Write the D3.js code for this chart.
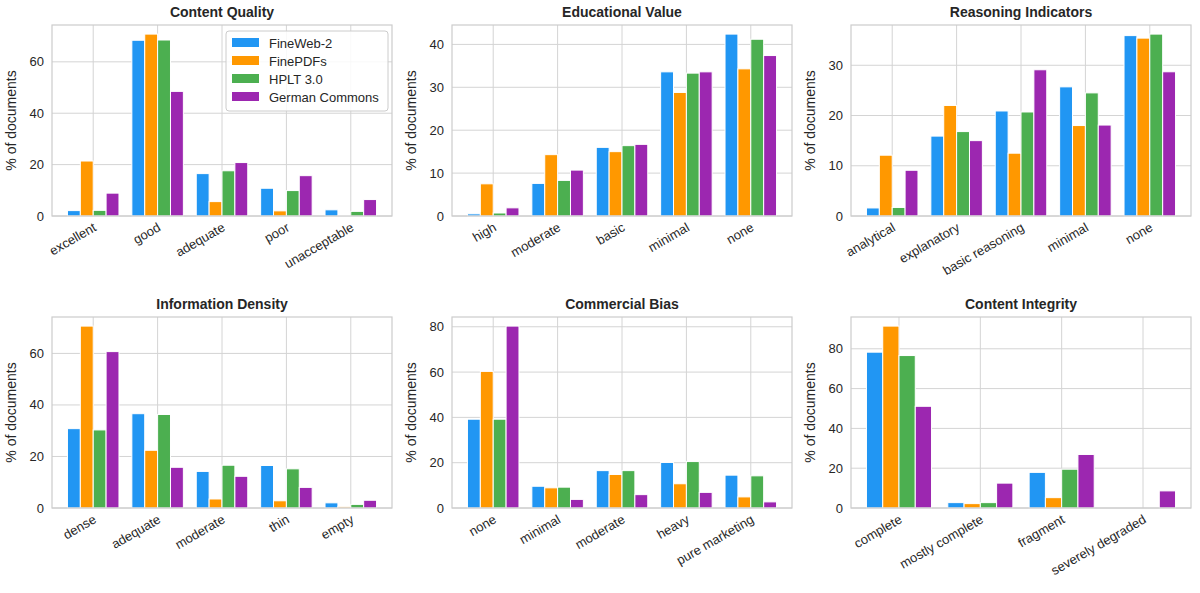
<!DOCTYPE html>
<html lang="en">
<head>
<meta charset="UTF-8">
<title>Quality distributions</title>
<script src="https://d3js.org/d3.v7.min.js"></script>
<style>
  body { margin: 0; background: #fff; font-family: Arial, "Liberation Sans", sans-serif; }
  text { fill: #262626; }
</style>
</head>
<body>
<svg id="chart" width="1200" height="593"></svg>
<script>
const seriesNames = ["FineWeb-2", "FinePDFs", "HPLT 3.0", "German Commons"];
const colors = ["#2196F3", "#FF9800", "#4CAF50", "#9C27B0"];

const titles = ["Content Quality", "Educational Value", "Reasoning Indicators",
                "Information Density", "Commercial Bias", "Content Integrity"];

const categories = [
  ["excellent", "good", "adequate", "poor", "unacceptable"],
  ["high", "moderate", "basic", "minimal", "none"],
  ["analytical", "explanatory", "basic reasoning", "minimal", "none"],
  ["dense", "adequate", "moderate", "thin", "empty"],
  ["none", "minimal", "moderate", "heavy", "pure marketing"],
  ["complete", "mostly complete", "fragment", "severely degraded"]
];

// values[panel][category] = [FineWeb-2, FinePDFs, HPLT 3.0, German Commons]
const values = [
  [[2.1, 21.4, 2.2, 8.9], [68.4, 70.8, 68.5, 48.5], [16.5, 5.6, 17.6, 20.8], [10.8, 2.0, 9.9, 15.7], [2.4, 0.2, 1.8, 6.4]],
  [[0.5, 7.5, 0.7, 1.9], [7.6, 14.3, 8.3, 10.7], [16.0, 15.0, 16.4, 16.7], [33.6, 28.8, 33.3, 33.6], [42.4, 34.3, 41.2, 37.4]],
  [[1.6, 12.1, 1.7, 9.1], [15.9, 22.0, 16.8, 15.0], [20.9, 12.5, 20.7, 29.1], [25.7, 18.0, 24.5, 18.1], [35.9, 35.4, 36.2, 28.7]],
  [[30.8, 70.6, 30.3, 60.7], [36.6, 22.4, 36.3, 15.8], [14.2, 3.5, 16.6, 12.3], [16.5, 2.8, 15.2, 8.0], [2.0, 0.5, 1.4, 3.0]],
  [[39.2, 60.3, 39.2, 80.3], [9.6, 8.9, 9.2, 3.8], [16.5, 14.8, 16.5, 5.9], [20.1, 10.7, 20.5, 6.9], [14.5, 4.9, 14.2, 2.7]],
  [[78.3, 91.4, 76.6, 51.1], [2.7, 2.2, 2.7, 12.5], [17.9, 5.2, 19.5, 26.9], [0, 0, 0, 8.6]]
];

const svg = d3.select("#chart");
const W = 340, H = 191;
const lefts = [52, 452, 851], tops = [25, 317];
const barW = 0.2;

titles.forEach((title, p) => {
  const x0 = lefts[p % 3], y0 = tops[Math.floor(p / 3)];
  const g = svg.append("g").attr("transform", `translate(${x0},${y0})`);
  const cats = categories[p], vals = values[p];
  const n = cats.length;
  const lo = -0.4, hi = n - 1 + 0.4, span = hi - lo;
  const x = d3.scaleLinear().domain([lo - 0.05 * span, hi + 0.05 * span]).range([0, W]);
  const ymax = d3.max(vals.flat()) * 1.05;
  const y = d3.scaleLinear().domain([0, ymax]).range([H, 0]);
  const ticks = d3.range(0, ymax, ymax > 50 ? 20 : 10);

  // grid
  g.selectAll(".hg").data(ticks).enter().append("line")
    .attr("x1", 0).attr("x2", W).attr("y1", d => y(d)).attr("y2", d => y(d))
    .attr("stroke", "#d4d4d4").attr("stroke-width", 1);
  g.selectAll(".vg").data(d3.range(n)).enter().append("line")
    .attr("y1", 0).attr("y2", H).attr("x1", d => x(d)).attr("x2", d => x(d))
    .attr("stroke", "#d4d4d4").attr("stroke-width", 1);

  // bars
  vals.forEach((row, ci) => {
    row.forEach((v, si) => {
      const xs = ci - 0.4 + si * barW;
      g.append("rect")
        .attr("x", x(xs)).attr("width", x(xs + barW) - x(xs))
        .attr("y", y(v)).attr("height", H - y(v))
        .attr("fill", colors[si]).attr("stroke", "#fff").attr("stroke-width", 1);
    });
  });

  // frame
  g.append("rect").attr("width", W).attr("height", H)
    .attr("fill", "none").attr("stroke", "#cccccc").attr("stroke-width", 1.2);

  // y ticks
  g.selectAll(".yt").data(ticks).enter().append("text")
    .attr("x", -8).attr("y", d => y(d)).attr("dy", "0.35em")
    .attr("text-anchor", "end").attr("font-size", 13).text(d => d);

  // x labels
  g.selectAll(".xt").data(cats).enter().append("text")
    .attr("transform", (d, i) => `translate(${x(i) + 4},${H + 14}) rotate(-30)`)
    .attr("text-anchor", "end").attr("font-size", 13).text(d => d);

  g.append("text").attr("x", W / 2).attr("y", -8).attr("text-anchor", "middle")
    .attr("font-size", 14).attr("font-weight", "bold").text(title);

  g.append("text").attr("transform", `translate(${-36},${H / 2}) rotate(-90)`)
    .attr("text-anchor", "middle").attr("font-size", 14).text("% of documents");

  if (p === 0) {
    const lg = g.append("g").attr("transform", `translate(${W - 166},6)`);
    lg.append("rect").attr("width", 162).attr("height", 80).attr("rx", 3)
      .attr("fill", "#fff").attr("fill-opacity", 0.85).attr("stroke", "#cccccc");
    seriesNames.forEach((s, i) => {
      lg.append("rect").attr("x", 6).attr("y", 7 + i * 18).attr("width", 27).attr("height", 9)
        .attr("fill", colors[i]);
      lg.append("text").attr("x", 43).attr("y", 12 + i * 18).attr("dy", "0.35em")
        .attr("font-size", 13).text(s);
    });
  }
});
</script>
</body>
</html>
